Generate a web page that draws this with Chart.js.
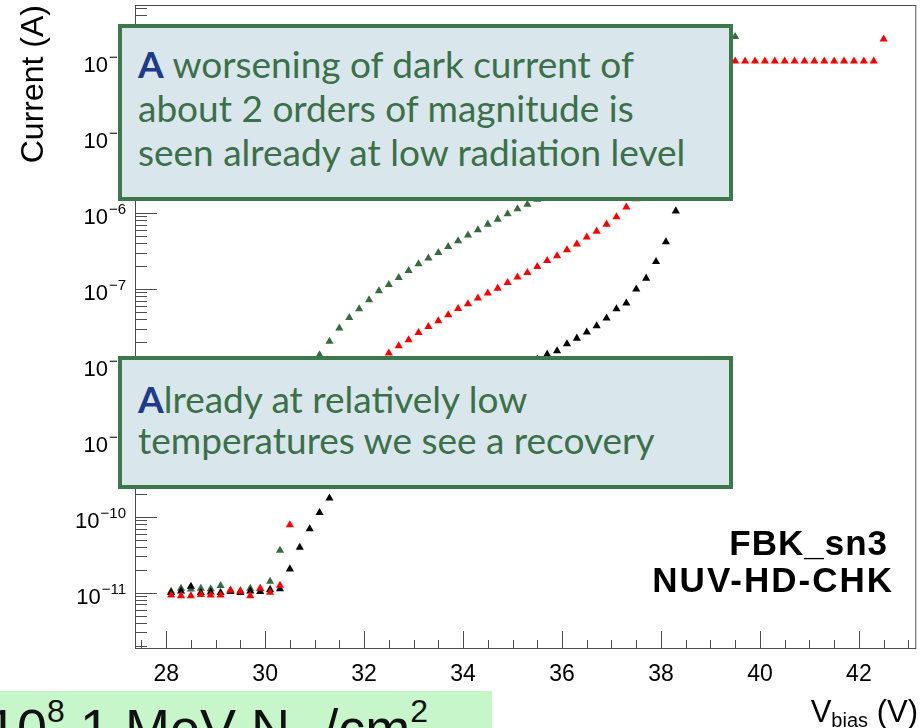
<!DOCTYPE html>
<html>
<head>
<meta charset="utf-8">
<title>FBK_sn3 dark current</title>
<script src="https://cdn.jsdelivr.net/npm/chart.js@4.4.1/dist/chart.umd.min.js"></script>
<style>
  body {
    margin: 0;
    width: 921px;
    height: 728px;
    overflow: hidden;
    position: relative;
    background: #fff;
    font-family: "Liberation Sans", Arial, sans-serif;
  }
  #ivChart { position: absolute; left: 0; top: 0; }
  .note {
    position: absolute;
    left: 118px;
    width: 615px;
    box-sizing: border-box;
    border: 4px solid #3c784c;
    background: #d9e7ec;
    font-family: Lato, "Open Sans", sans-serif;
    font-size: 37px;
    color: #3b7049;
    padding-left: 16px;
    white-space: nowrap;
  }
  .note b { color: #1e3a8e; }
  #note1 { top: 24px; height: 177px; padding-top: 14px; line-height: 44px; }
  #note2 { top: 356px; height: 133px; padding-top: 18px; line-height: 41px; }
  .device {
    position: absolute;
    font-weight: bold;
    font-size: 35px;
    line-height: 37px;
    color: #000;
    white-space: nowrap;
  }
  #devName { right: 33px; top: 524px; letter-spacing: 1px; }
  #devType { right: 27px; top: 561px; letter-spacing: 2px; }
  #xtitle {
    position: absolute;
    right: 3px;
    top: 696px;
    font-size: 31px;
    line-height: 31px;
    color: #000;
    white-space: nowrap;
  }
  #xtitle sub { font-size: 20px; vertical-align: -5px; line-height: 0; }
  #fluence {
    position: absolute;
    left: 0;
    top: 691px;
    width: 492px;
    height: 60px;
    background: #c6f6c9;
    overflow: hidden;
  }
  #fluence span {
    position: absolute;
    left: -13px;
    top: 9px;
    font-size: 54px;
    line-height: 56px;
    color: #111;
    white-space: nowrap;
  }
  #fluence sup { font-size: 32px; vertical-align: 25px; line-height: 0; }
  #fluence sub { font-size: 30px; vertical-align: -12px; line-height: 0; }
</style>
</head>
<body>
<canvas id="ivChart" width="921" height="728"></canvas>

<div class="note" id="note1"><b>A</b> worsening of dark current of<br>about 2 orders of magnitude is<br>seen already at low radiation level</div>
<div class="note" id="note2"><b>A</b>lready at relatively low<br>temperatures we see a recovery</div>
<div class="device" id="devName">FBK_sn3</div>
<div class="device" id="devType">NUV-HD-CHK</div>
<div id="xtitle">V<sub>bias</sub> (V)</div>
<div id="fluence"><span>10<sup>8</sup> 1 MeV N<sub>eq</sub>/cm<sup>2</sup></span></div>

<script>
// bias voltage steps (V)
const vbias = [
  28.1, 28.3, 28.5, 28.7, 28.9, 29.1, 29.3, 29.5, 29.7, 29.9,
  30.1, 30.3, 30.5, 30.7, 30.9, 31.1, 31.3, 31.5, 31.7, 31.9,
  32.1, 32.3, 32.5, 32.7, 32.9, 33.1, 33.3, 33.5, 33.7, 33.9,
  34.1, 34.3, 34.5, 34.7, 34.9, 35.1, 35.3, 35.5, 35.7, 35.9,
  36.1, 36.3, 36.5, 36.7, 36.9, 37.1, 37.3, 37.5, 37.7, 37.9,
  38.1, 38.3, 38.5, 38.7, 38.9, 39.1, 39.3, 39.5, 39.7, 39.9,
  40.1, 40.3, 40.5, 40.7, 40.9, 41.1, 41.3, 41.5, 41.7, 41.9,
  42.1, 42.3, 42.5
];

// dark current (A), before irradiation
const currentPre = [
  1.0e-11, 1.05e-11, 1.21e-11, 1.0e-11, 1.02e-11, 1.0e-11, 1.03e-11, 1.0e-11, 1.05e-11, 1.03e-11,
  1.1e-11, 1.12e-11, 2.05e-11, 3.94e-11, 6.9e-11, 1.13e-10, 1.76e-10, 2.5e-10, 3.5e-10, 4.8e-10,
  6.3e-10, 7.9e-10, 1.0e-9, 1.2e-9, 1.45e-9, 1.75e-9, 2.05e-9, 2.4e-9, 2.8e-9, 3.3e-9,
  3.9e-9, 4.6e-9, 5.4e-9, 6.3e-9, 7.4e-9, 8.7e-9, 1.02e-8, 1.18e-8, 1.37e-8, 1.53e-8,
  1.89e-8, 2.24e-8, 2.69e-8, 3.26e-8, 4.11e-8, 5.45e-8, 6.48e-8, 9.9e-8, 1.38e-7, 2.29e-7,
  4.15e-7, 1.06e-6, 4.0e-6, 1.8e-5, 6.5e-5, 1.0e-4, 2.0e-4
];

// dark current (A), right after irradiation
const currentIrr = [
  1.04e-11, 1.14e-11, 1.11e-11, 1.14e-11, 1.12e-11, 1.24e-11, 1.08e-11, 1.06e-11, 1.14e-11, 1.12e-11,
  1.41e-11, 3.6e-11, 4.5e-10, 1.6e-9, 5.2e-9, 1.35e-8, 2.03e-8, 3.04e-8, 4.19e-8, 5.45e-8,
  7.16e-8, 9.4e-8, 1.14e-7, 1.41e-7, 1.74e-7, 2.13e-7, 2.54e-7, 3.0e-7, 3.6e-7, 4.28e-7,
  5.1e-7, 5.98e-7, 7.1e-7, 8.26e-7, 9.7e-7, 1.13e-6, 1.30e-6, 1.51e-6, 1.75e-6, 2.0e-6,
  2.4e-6, 2.9e-6, 3.6e-6, 4.6e-6, 6.2e-6, 8.8e-6, 1.3e-5, 2.1e-5, 3.6e-5, 6.5e-5,
  1.0e-4, 1.0e-4, 1.0e-4, 1.0e-4, 1.0e-4, 1.0e-4, 1.0e-4, 2.1e-4
];

// dark current (A), after annealing
const currentAnn = [
  9.3e-12, 9.1e-12, 9.1e-12, 9.4e-12, 9.3e-12, 9.3e-12, 1.07e-11, 1.04e-11, 9.1e-12, 1.14e-11,
  1.01e-11, 1.25e-11, 7.8e-11, 3.1e-10, 7.0e-10, 1.25e-9, 2.0e-9, 3.1e-9, 4.4e-9, 6.2e-9,
  8.4e-9, 1.12e-8, 1.43e-8, 1.78e-8, 2.13e-8, 2.66e-8, 3.19e-8, 3.79e-8, 4.55e-8, 5.5e-8,
  6.35e-8, 7.55e-8, 8.8e-8, 1.02e-7, 1.21e-7, 1.43e-7, 1.64e-7, 1.96e-7, 2.35e-7, 2.72e-7,
  3.26e-7, 3.9e-7, 4.8e-7, 5.74e-7, 7.1e-7, 8.9e-7, 1.19e-6, 1.53e-6, 2.3e-6, 3.8e-6,
  6.5e-6, 1.2e-5, 2.3e-5, 4.4e-5, 8.0e-5, 1.0e-4, 1.0e-4, 1.0e-4, 1.0e-4, 1.0e-4,
  1.0e-4, 1.0e-4, 1.0e-4, 1.0e-4, 1.0e-4, 1.0e-4, 1.0e-4, 1.0e-4, 1.0e-4, 1.0e-4,
  1.0e-4, 1.0e-4, 1.95e-4
];

// decades that get a "10^n" label on the current axis
const yDecades = [-11, -10, -9, -8, -7, -6, -5, -4];

const xMin = 27.37, xMax = 43.16;
const yMin = 1.87e-12, yMax = 5.48e-4;

const fontFamily = "'Liberation Sans', Arial, sans-serif";

function toPoints(values) {
  return values.map((v, i) => ({ x: vbias[i], y: v }));
}

// ROOT-like frame with ticks pointing into the pad, plus 10^n labels
const frameTicks = {
  id: "frameTicks",
  beforeDatasetsDraw(chart) {
    const { ctx, chartArea: a, scales: { x, y } } = chart;
    ctx.save();
    ctx.strokeStyle = "#4d4d4d";
    ctx.lineWidth = 1;
    ctx.strokeRect(a.left + 0.5, a.top + 0.5, a.right - a.left - 1, a.bottom - a.top);
    ctx.beginPath();
    for (let v = 27.5; v <= xMax; v += 0.5) {
      const px = Math.round(x.getPixelForValue(v)) + 0.5;
      const len = v % 2 === 0 ? 17 : 8;
      ctx.moveTo(px, a.bottom);
      ctx.lineTo(px, a.bottom - len);
    }
    for (let e = -12; e <= -4; e++) {
      for (let k = 1; k <= 9; k++) {
        const val = k * Math.pow(10, e);
        if (val < yMin || val > yMax) continue;
        const py = Math.round(y.getPixelForValue(val)) + 0.5;
        ctx.moveTo(a.left, py);
        ctx.lineTo(a.left + (k === 1 ? 22 : 12), py);
      }
    }
    ctx.stroke();

    // labels: "10" with a raised exponent, right edge just left of the frame
    ctx.fillStyle = "#000";
    ctx.textBaseline = "alphabetic";
    ctx.textAlign = "right";
    const right = a.left - 9;
    yDecades.forEach(e => {
      const py = y.getPixelForValue(Math.pow(10, e));
      const exp = "\u2212" + Math.abs(e);
      ctx.font = "15px " + fontFamily;
      const expW = ctx.measureText(exp).width;
      ctx.fillText(exp, right, py + 1);
      ctx.font = "22px " + fontFamily;
      ctx.fillText("10", right - expW - 1, py + 11);
    });
    ctx.restore();
  }
};

const triangle = { pointStyle: "triangle", pointRadius: 4.7, borderWidth: 0, showLine: false };

new Chart(document.getElementById("ivChart"), {
  type: "scatter",
  data: {
    datasets: [
      { label: "annealed", data: toPoints(currentAnn), backgroundColor: "#ff0000", ...triangle },
      { label: "pre-irradiation", data: toPoints(currentPre), backgroundColor: "#000000", ...triangle },
      { label: "irradiated", data: toPoints(currentIrr), backgroundColor: "#356b3e", ...triangle }
    ]
  },
  options: {
    responsive: false,
    animation: false,
    layout: { padding: { top: 5, right: 3, left: 0, bottom: 0 } },
    plugins: { legend: { display: false }, tooltip: { enabled: false } },
    scales: {
      x: {
        type: "linear",
        min: xMin,
        max: xMax,
        grid: { display: false, drawTicks: false },
        border: { display: false },
        ticks: { stepSize: 2, includeBounds: false, padding: 13, color: "#000", font: { family: fontFamily, size: 23 }, maxRotation: 0 },
        afterFit(scale) { scale.height = 80; }
      },
      y: {
        type: "logarithmic",
        min: yMin,
        max: yMax,
        grid: { display: false, drawTicks: false },
        border: { display: false },
        ticks: { display: false },
        title: {
          display: true,
          text: "Current (A)",
          align: "end",
          color: "#000",
          font: { family: fontFamily, size: 32 },
          padding: { top: 15, bottom: 0 }
        },
        afterFit(scale) { scale.width = 135; }
      }
    }
  },
  plugins: [frameTicks]
});
</script>
</body>
</html>
